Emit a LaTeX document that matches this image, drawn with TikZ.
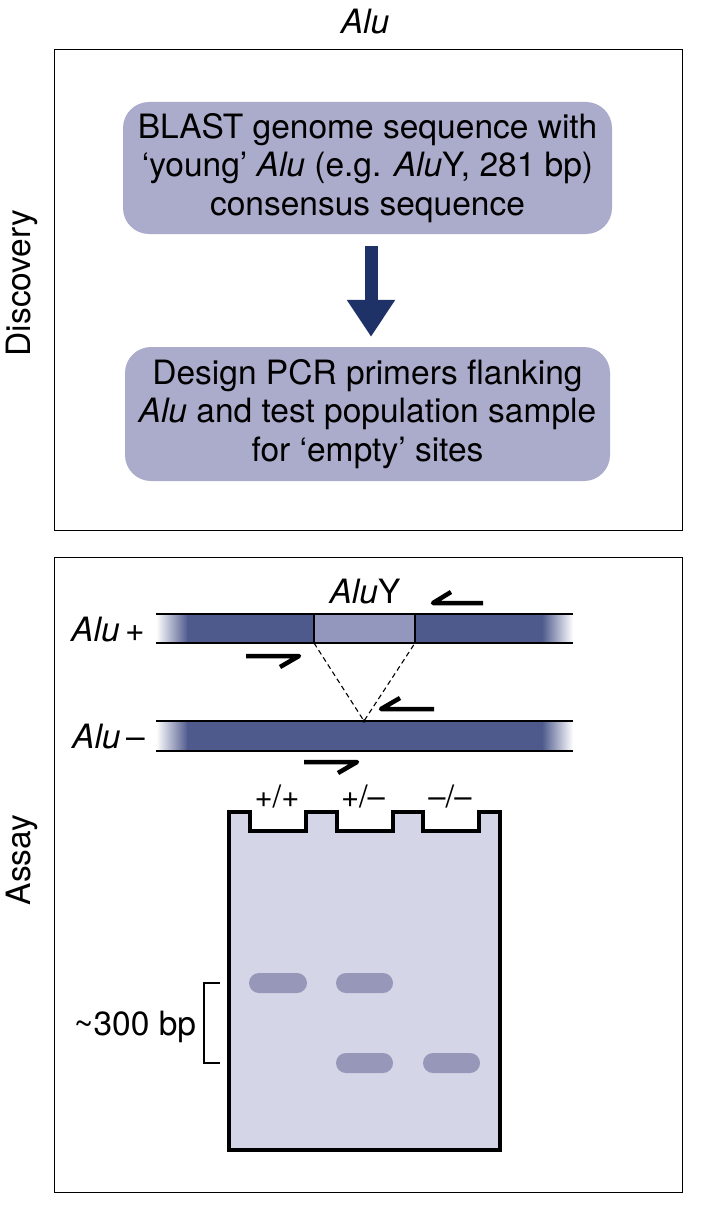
\documentclass[tikz,border=0pt]{standalone}
\usepackage{fontspec}
\setmainfont{TeX Gyre Heros}
\usetikzlibrary{arrows.meta,calc}
\definecolor{boxfill}{HTML}{ABABCB}
\definecolor{navy}{HTML}{1F3268}
\definecolor{strand}{HTML}{4F5A8C}
\definecolor{aluy}{HTML}{9497BD}
\definecolor{gelfill}{HTML}{D4D5E6}
\definecolor{band}{HTML}{9797BA}
\tikzset{
  frame/.style={draw=black, line width=1pt},
  stepbox/.style={fill=boxfill, rounded corners=26pt, align=center, inner sep=0pt,
     font=\fontsize{33.5}{38.5}\selectfont},
  bigarrow/.style={navy, line width=13pt, -{Triangle[width=46pt,length=37pt]}},
  lbl/.style={font=\fontsize{33.5}{38}\selectfont, inner sep=0pt},
  gellbl/.style={font=\fontsize{31}{34}\selectfont, inner sep=0pt},
  primer/.style={line width=4.5pt, line cap=butt, line join=round},
  edge/.style={line width=1.5pt},
  gapline/.style={line width=1.1pt, dash pattern=on 5pt off 3.5pt},
  bandstyle/.style={fill=band, rounded corners=10pt},
}
\begin{document}
\begin{tikzpicture}[x=1pt,y=-1pt]
\useasboundingbox (0,0) rectangle (705,1209);
% title and frames
\node[lbl] (title) at (365,22) {\itshape Alu};
\draw[frame] (54,50) rectangle (682,530);
\draw[frame] (54,557) rectangle (682,1192);
\node[lbl, rotate=90] (disc) at (22,283) {Discovery};
\node[lbl, rotate=90] (assay) at (22,860) {Assay};
% discovery steps
\node[stepbox, minimum width=489pt, minimum height=132pt] (box1) at (367.5,168)
  {BLAST genome sequence with\\ `young' \textit{Alu} (e.g. \textit{Alu}Y, 281 bp)\\ consensus sequence};
\node[stepbox, minimum width=485pt, minimum height=134pt] (box2) at (367.5,414)
  {Design PCR primers flanking\\ \textit{Alu} and test population sample\\ for `empty' sites};
\draw[bigarrow] ($(box1.south)+(3.5,12)$) -- ($(box2.north)+(3.5,-10)$);
% strands
\shade[left color=white, right color=strand] (156,614) rectangle (188,643);
\fill[strand] (187,614) rectangle (543,643);
\shade[left color=strand, right color=white] (542,614) rectangle (573,643);
\draw[fill=aluy, line width=1.2pt] (314,614) rectangle (415,643);
\draw[edge] (156,614) -- (573,614);
\draw[edge] (156,643) -- (573,643);
\shade[left color=white, right color=strand] (156,721) rectangle (188,751);
\fill[strand] (187,721) rectangle (543,751);
\shade[left color=strand, right color=white] (542,721) rectangle (573,751);
\draw[edge] (156,721) -- (573,721);
\draw[edge] (156,751) -- (573,751);
\coordinate (aL) at (314,643);
\coordinate (aR) at (415,643);
\coordinate (apex) at (364,721);
\draw[gapline] (aL) -- (apex) -- (aR);
\fill (apex) circle (1.8pt);
\node[lbl, anchor=east] (plus) at (145,630) {\textit{Alu}\,+};
\node[lbl, anchor=east] (minus) at (145,737) {\textit{Alu}\,–};
\node[lbl] (aluyl) at (365,592) {\textit{Alu}Y};
% primers
\draw[primer] (483,603) -- (433,603) -- (451,592);
\draw[primer] (246,656) -- (299,656) -- (280,667);
\draw[primer] (434,709) -- (381,709) -- (400,698);
\draw[primer] (304,762) -- (357,762) -- (338,773);
% gel
\draw[fill=gelfill, line width=4pt, line join=miter]
  (229,812) -- (250,812) -- (250,831) -- (306,831) -- (306,812)
  -- (337,812) -- (337,831) -- (393,831) -- (393,812)
  -- (423,812) -- (423,831) -- (479,831) -- (479,812)
  -- (500,812) -- (500,1150) -- (229,1150) -- cycle;
\node[gellbl] (g1) at (277,797) {+/+};
\node[gellbl] (g2) at (363,797) {+/–};
\node[gellbl] (g3) at (450,797) {–/–};
\fill[bandstyle] (249,973) rectangle (307,993);
\fill[bandstyle] (336,973) rectangle (393,993);
\fill[bandstyle] (336,1053) rectangle (393,1073);
\fill[bandstyle] (423,1053) rectangle (480,1073);
\draw[line width=1.2pt] (220,983) -- (204,983) -- (204,1063) -- (220,1063);
\node[lbl] (size) at (135,1027) {\textasciitilde300 bp};
\end{tikzpicture}
\end{document}
